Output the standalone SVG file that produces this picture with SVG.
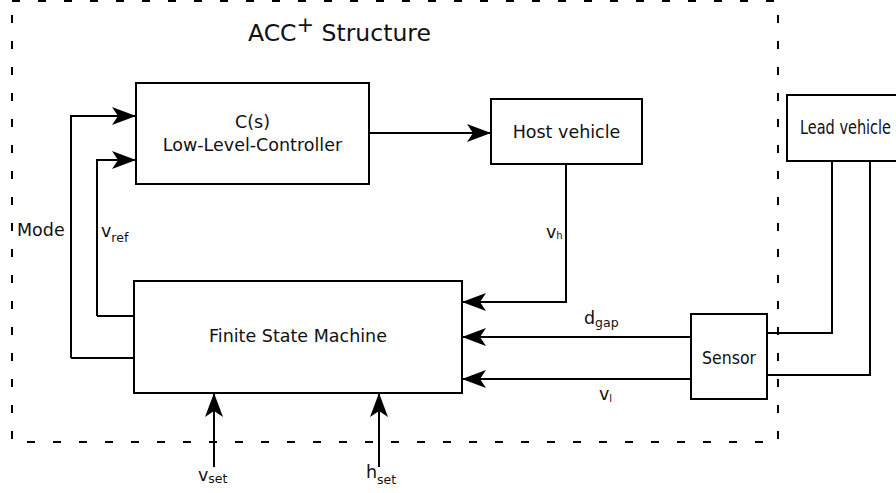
<svg xmlns="http://www.w3.org/2000/svg" width="896" height="493" viewBox="0 0 896 493">
<defs>
<style>
.box{fill:#fff;stroke:#000;stroke-width:2}
.ln{fill:none;stroke:#000;stroke-width:2}
.arr{fill:none;stroke:#000;stroke-width:2;marker-end:url(#ah)}
.t{font-family:"DejaVu Sans",sans-serif;font-size:17.5px;fill:#111}
.c{font-family:"DejaVu Sans Condensed","DejaVu Sans",sans-serif;fill:#111}
.s{font-size:12.5px}
</style>
<marker id="ah" markerUnits="userSpaceOnUse" markerWidth="24" markerHeight="18" refX="24" refY="9" orient="auto">
<path d="M0,0 L24,9 L0,18 L6,9 Z" fill="#000"/>
</marker>
</defs>
<rect x="12" y="1" width="766" height="441" fill="none" stroke="#000" stroke-width="2" stroke-dasharray="8,18"/>
<text x="248" y="41" font-family="DejaVu Sans,sans-serif" font-size="23.5" fill="#111">ACC<tspan font-size="21" dy="-9">+</tspan><tspan dy="9"> Structure</tspan></text>
<g id="connectors">
<path class="arr" d="M71,358 L71,116 L136,116"/>
<path class="arr" d="M97,316 L97,160 L136,160"/>
<path class="ln" d="M71,358 L134,358 M97,316 L134,316"/>
<path class="arr" d="M369,133 L491,133"/>
<path class="arr" d="M566,164 L566,302 L462,302"/>
<path class="arr" d="M691,337 L462,337"/>
<path class="arr" d="M691,379 L462,379"/>
<path class="ln" d="M832,161 L832,333 L767,333"/>
<path class="ln" d="M870,161 L870,375 L767,375"/>
<path class="arr" d="M214,467 L214,393"/>
<path class="arr" d="M379,467 L379,393"/>
</g>
<g id="controller">
<rect class="box" x="136" y="83" width="233" height="101"/>
<text class="t" x="252.5" y="128" text-anchor="middle">C(s)</text>
<text class="t" x="252.5" y="151" text-anchor="middle">Low-Level-Controller</text>
</g>
<g id="host">
<rect class="box" x="491" y="99" width="151" height="65"/>
<text class="t" x="566.5" y="138" text-anchor="middle">Host vehicle</text>
</g>
<g id="lead">
<rect class="box" x="787" y="95" width="120" height="66"/>
<text class="c" x="800" y="134" font-size="20" textLength="91" lengthAdjust="spacingAndGlyphs">Lead vehicle</text>
</g>
<g id="sensor">
<rect class="box" x="691" y="314" width="76" height="85"/>
<text class="c" x="702" y="364" font-size="18" textLength="54" lengthAdjust="spacingAndGlyphs">Sensor</text>
</g>
<g id="fsm">
<rect class="box" x="134" y="281" width="328" height="112"/>
<text class="t" x="298" y="342" text-anchor="middle">Finite State Machine</text>
</g>
<g id="labels">
<text class="t" x="17" y="236" font-size="17">Mode</text>
<text class="t" x="101" y="237">v<tspan class="s" dy="5">ref</tspan></text>
<text class="t" x="546" y="238">v<tspan font-size="10" dy="1">h</tspan></text>
<text class="t" x="584" y="324">d<tspan class="s" dy="3">gap</tspan></text>
<text class="t" x="599" y="400">v<tspan font-size="10" dy="2">l</tspan></text>
<text class="t" x="198" y="481">v<tspan class="s" dy="2">set</tspan></text>
<text class="t" x="366" y="478">h<tspan class="s" dy="6">set</tspan></text>
</g>
</svg>
